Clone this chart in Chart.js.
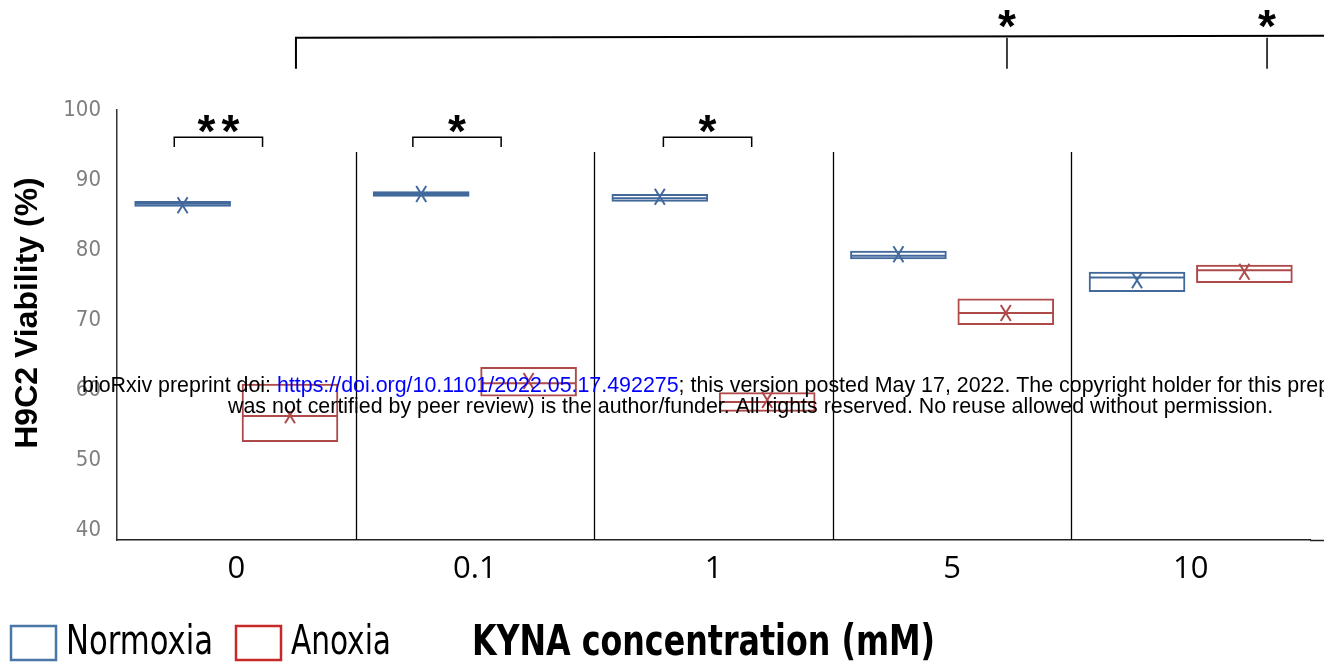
<!DOCTYPE html>
<html>
<head>
<meta charset="utf-8">
<script src="https://cdn.jsdelivr.net/npm/chart.js@4.4.1/dist/chart.umd.min.js"></script>
<style>
  html, body { margin: 0; padding: 0; background: #fff; }
  #wrap { width: 1324px; height: 671px; position: relative; }
</style>
</head>
<body>
<div id="wrap"><canvas id="chart"></canvas></div>
<script>
// KYNA concentrations (mM)
const categories = ["0", "0.1", "1", "5", "10"];
const yTicks = [40, 50, 60, 70, 80, 90, 100];

// Normoxia: box = lower / upper quartile, plus median and mean
const normoxiaLow = [86.2, 87.6, 86.9, 78.7, 74.0];
const normoxiaHigh = [87.0, 88.4, 88.0, 79.9, 76.9];
const normoxiaMedian = [86.6, 88.0, 87.4, 79.2, 76.1];
const normoxiaMean = [86.4, 88.0, 87.6, 79.4, 75.7];

// Anoxia
const anoxiaLow = [52.6, 59.1, 56.9, 69.3, 75.3];
const anoxiaHigh = [60.9, 63.3, 59.7, 73.1, 77.9];
const anoxiaMedian = [56.3, 61.0, 58.3, 71.0, 77.1];
const anoxiaMean = [56.4, 61.3, 58.6, 71.0, 76.9];

// significance marks: normoxia vs anoxia within a concentration
const pairCats = [0, 1, 2];
const pairStars = ["**", "*", "*"];
// anoxia at 0 mM vs anoxia at these concentrations
const anoxiaCats = [3, 4];
const anoxiaStars = ["*", "*"];

const NARROW = "'Liberation Sans Narrow', 'DejaVu Sans Condensed', sans-serif";
const ARIAL = "'Liberation Sans', Arial, sans-serif";

const blue = "#41699C";
const red = "#AE4A4A";
const legendColors = ["#4A76A8", "#C82828"];

function toBoxes(lo, hi) {
  return lo.map((v, i) => [v, hi[i]]);
}

function line(ctx, x1, y1, x2, y2) {
  ctx.beginPath();
  ctx.moveTo(x1, y1);
  ctx.lineTo(x2, y2);
  ctx.stroke();
}

// text squeezed to a given width (the original uses a narrow face)
function squeezed(ctx, text, x, y, width) {
  const w = ctx.measureText(text).width;
  ctx.save();
  ctx.translate(x, y);
  ctx.scale(Math.min(1, width / w), 1);
  ctx.fillText(text, 0, 0);
  ctx.restore();
}

const STAR_SIZE = 46;
function stars(ctx, text, cx, cy) {
  // the asterisk glyph sits high: its centre is ~0.48em above the baseline
  ctx.font = "bold " + STAR_SIZE + "px " + ARIAL;
  ctx.textBaseline = "alphabetic";
  ctx.textAlign = "center";
  const n = text.length, gap = 24;
  for (let k = 0; k < n; k++) {
    ctx.fillText("*", cx + (k - (n - 1) / 2) * gap, cy + STAR_SIZE * 0.48);
  }
}

const boxExtras = {
  id: "boxExtras",
  beforeDatasetsDraw(chart) {
    const ctx = chart.ctx, x = chart.scales.x, y = chart.scales.y, area = chart.chartArea;
    ctx.save();
    ctx.strokeStyle = "#000";
    ctx.lineWidth = 1.3;
    for (let i = 0; i < categories.length - 1; i++) {
      const px = Math.round((x.getPixelForValue(i) + x.getPixelForValue(i + 1)) / 2) + 0.5;
      line(ctx, px, y.getPixelForValue(94), px, area.bottom);
    }
    // x axis line runs on to the page edge
    ctx.strokeStyle = "#222";
    ctx.lineWidth = 1.5;
    line(ctx, area.right, area.bottom + 0.5, chart.width, area.bottom + 0.5);
    ctx.restore();
  },
  afterDatasetsDraw(chart) {
    const ctx = chart.ctx, y = chart.scales.y;
    ctx.save();
    chart.data.datasets.forEach((ds, di) => {
      const meta = chart.getDatasetMeta(di);
      ctx.strokeStyle = ds.borderColor;
      ctx.lineWidth = 2;
      meta.data.forEach((bar, i) => {
        const half = bar.width / 2;
        const my = y.getPixelForValue(ds.medians[i]);
        line(ctx, bar.x - half + 1, my, bar.x + half - 1, my);
        // mean marker
        const ey = y.getPixelForValue(ds.means[i]);
        line(ctx, bar.x - 5, ey - 8, bar.x + 5, ey + 8);
        line(ctx, bar.x + 5, ey - 8, bar.x - 5, ey + 8);
      });
    });
    ctx.restore();
  },
  afterDraw(chart) {
    const ctx = chart.ctx, x = chart.scales.x, y = chart.scales.y, area = chart.chartArea;
    ctx.save();
    ctx.strokeStyle = "#000";
    ctx.fillStyle = "#000";
    ctx.lineWidth = 1.5;

    // small brackets over each pair
    pairCats.forEach((c, i) => {
      const shift = c === 2 ? 0.05 : 0;
      const x1 = x.getPixelForValue(c - 0.26 + shift);
      const x2 = x.getPixelForValue(c + 0.11 + shift);
      const top = y.getPixelForValue(96.1), foot = y.getPixelForValue(94.7);
      ctx.beginPath();
      ctx.moveTo(x1, foot); ctx.lineTo(x1, top); ctx.lineTo(x2, top); ctx.lineTo(x2, foot);
      ctx.stroke();
      stars(ctx, pairStars[i], (x1 + x2) / 2, y.getPixelForValue(97.9));
    });

    // long bracket from anoxia 0 mM
    const ly = y.getPixelForValue(110.3), lfoot = y.getPixelForValue(105.9);
    const lx = x.getPixelForValue(0.25);
    ctx.lineWidth = 2;
    ctx.beginPath();
    ctx.moveTo(lx, lfoot); ctx.lineTo(lx, ly); ctx.lineTo(chart.width, ly - 2);
    ctx.stroke();
    anoxiaCats.forEach((c, i) => {
      const px = x.getPixelForValue(c + (c === 3 ? 0.23 : 0.32));
      ctx.lineWidth = 1.5;
      line(ctx, px, ly, px, lfoot);
      stars(ctx, anoxiaStars[i], px, y.getPixelForValue(112.9));
    });

    // y axis title
    ctx.save();
    ctx.translate(28, 313);
    ctx.rotate(-Math.PI / 2);
    ctx.textAlign = "center";
    ctx.textBaseline = "middle";
    ctx.font = "bold 32px " + ARIAL;
    ctx.fillText("H9C2 Viability (%)", 0, 0);
    ctx.restore();

    // legend
    ctx.textAlign = "left";
    ctx.textBaseline = "middle";
    ctx.font = "40px " + NARROW;
    const legendWidths = [147, 100];
    let lxPos = 10;
    chart.data.datasets.forEach((ds, di) => {
      ctx.strokeStyle = legendColors[di];
      ctx.lineWidth = 2.5;
      ctx.strokeRect(lxPos + 1, 626, 45, 34);
      ctx.fillStyle = "#000";
      squeezed(ctx, ds.label, lxPos + 56, 644, legendWidths[di]);
      lxPos += 56 + legendWidths[di] + 22;
    });

    // x axis title
    ctx.font = "bold 42px " + NARROW;
    squeezed(ctx, "KYNA concentration (mM)", 472, 644, 463);

    // preprint overlay
    ctx.textAlign = "left";
    ctx.textBaseline = "alphabetic";
    ctx.font = "21.4px " + ARIAL;
    const parts = [
      ["bioRxiv preprint doi: ", "#000"],
      ["https://doi.org/10.1101/2022.05.17.492275", "#0000FF"],
      ["; this version posted May 17, 2022. The copyright holder for this preprint (which", "#000"]
    ];
    let tx = 82;
    parts.forEach(([t, c]) => {
      ctx.fillStyle = c;
      ctx.fillText(t, tx, 392);
      tx += ctx.measureText(t).width;
    });
    ctx.fillStyle = "#000";
    ctx.fillText("was not certified by peer review) is the author/funder. All rights reserved. No reuse allowed without permission.", 228, 413);
    ctx.restore();
  }
};

const chart = new Chart(document.getElementById("chart"), {
  type: "bar",
  data: {
    labels: categories,
    datasets: [
      {
        label: "Normoxia",
        data: toBoxes(normoxiaLow, normoxiaHigh),
        medians: normoxiaMedian,
        means: normoxiaMean,
        borderColor: blue,
        backgroundColor: "rgba(0,0,0,0)",
        borderWidth: 2,
        borderSkipped: false,
        categoryPercentage: 0.9,
        barPercentage: 0.9
      },
      {
        label: "Anoxia",
        data: toBoxes(anoxiaLow, anoxiaHigh),
        medians: anoxiaMedian,
        means: anoxiaMean,
        borderColor: red,
        backgroundColor: "rgba(0,0,0,0)",
        borderWidth: 2,
        borderSkipped: false,
        categoryPercentage: 0.9,
        barPercentage: 0.9
      }
    ]
  },
  options: {
    responsive: true,
    maintainAspectRatio: false,
    devicePixelRatio: 1,
    animation: false,
    layout: { padding: { top: 110, right: 14, left: 0, bottom: 0 } },
    plugins: {
      legend: { display: false },
      tooltip: { enabled: false }
    },
    scales: {
      x: {
        grid: { display: false, drawTicks: false },
        border: { display: true, color: "#222", width: 1.5 },
        ticks: {
          color: "#000",
          padding: 11,
          font: { family: "'Open Sans', 'Noto Sans', sans-serif", size: 31 }
        },
        afterFit: (scale) => { scale.height = 131; }
      },
      y: {
        min: 38.6,
        max: 100,
        grid: { display: false, drawTicks: false },
        border: { display: true, color: "#333", width: 1.5 },
        ticks: {
          color: "#7F7F7F",
          padding: 16,
          font: { family: NARROW, size: 22 }
        },
        afterBuildTicks: (scale) => { scale.ticks = yTicks.map(v => ({ value: v })); },
        afterFit: (scale) => { scale.width = 117; }
      }
    }
  },
  plugins: [boxExtras]
});
</script>
</body>
</html>
